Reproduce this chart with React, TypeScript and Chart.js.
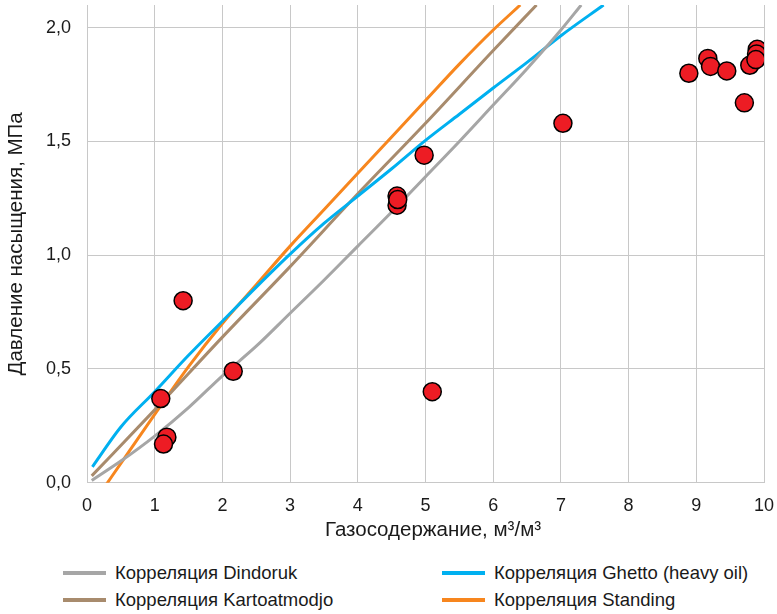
import React, { useEffect, useRef } from "react";
import { Chart, registerables } from "chart.js";

Chart.register(...registerables);

// ---- Data ----
const xTickValues = [0, 1, 2, 3, 4, 5, 6, 7, 8, 9, 10];
const yTickValues = [0, 0.5, 1.0, 1.5, 2.0];

const dindorukX = [0.07, 0.5, 1.0, 1.5, 2.0, 2.5, 3.0, 3.5, 4.0, 4.5, 5.0, 5.5, 6.0, 6.5, 7.0, 7.3];
const dindorukY = [0.01, 0.095, 0.205, 0.33, 0.47, 0.6, 0.745, 0.89, 1.04, 1.19, 1.345, 1.5, 1.66, 1.82, 1.99, 2.1];

const ghettoX = [0.08, 0.5, 1.0, 1.5, 2.0, 2.5, 3.0, 3.5, 4.0, 4.5, 5.0, 5.5, 6.0, 6.5, 7.0, 7.63];
const ghettoY = [0.07, 0.245, 0.4, 0.56, 0.71, 0.86, 1.005, 1.14, 1.26, 1.38, 1.505, 1.62, 1.735, 1.848, 1.965, 2.1];

const kartoX = [0.07, 1.0, 2.0, 3.0, 4.0, 5.0, 6.0, 6.64];
const kartoY = [0.03, 0.32, 0.64, 0.95, 1.27, 1.58, 1.9, 2.1];

const standingX = [0.28, 0.5, 1.0, 1.5, 2.0, 2.5, 3.0, 3.5, 4.0, 4.5, 5.0, 5.5, 6.0, 6.4];
const standingY = [-0.01, 0.085, 0.3, 0.51, 0.7, 0.87, 1.04, 1.2, 1.36, 1.52, 1.68, 1.84, 1.99, 2.1];

const sampleX = [1.42, 1.09, 1.18, 1.13, 2.16, 4.58, 4.58, 4.59, 4.98, 5.1, 7.03, 8.89, 9.17, 9.21, 9.45, 9.71, 9.79, 9.9, 9.89, 9.88];
const sampleY = [0.8, 0.37, 0.2, 0.17, 0.49, 1.22, 1.26, 1.245, 1.44, 0.4, 1.58, 1.8, 1.865, 1.83, 1.81, 1.67, 1.835, 1.905, 1.885, 1.86];

const seriesLabels = [
  "Корреляция Dindoruk",
  "Корреляция Ghetto (heavy oil)",
  "Корреляция Kartoatmodjo",
  "Корреляция Standing",
];
const seriesColors = ["#A6A6A6", "#00B0F0", "#A88B6D", "#F7861E"];

const xTitle = "Газосодержание, м³/м³";
const yTitle = "Давление насыщения, МПа";

const FONT = "'Liberation Sans', Arial, sans-serif";
const TEXT = "#1a1a1a";
const GRID = "#C8C8C8";

function pts(xs: number[], ys: number[]) {
  return xs.map((x, i) => ({ x, y: ys[i] }));
}

export default function App() {
  const ref = useRef<HTMLCanvasElement>(null);

  useEffect(() => {
    document.body.style.margin = "0";
    const canvas = ref.current;
    if (!canvas) return;

    const lineSets = [
      [dindorukX, dindorukY],
      [ghettoX, ghettoY],
      [kartoX, kartoY],
      [standingX, standingY],
    ].map(([xs, ys], i) => ({
      label: seriesLabels[i],
      data: pts(xs, ys),
      showLine: true,
      borderColor: seriesColors[i],
      backgroundColor: seriesColors[i],
      borderWidth: 3,
      pointRadius: 0,
      pointHoverRadius: 0,
      fill: false,
      cubicInterpolationMode: "monotone" as const,
    }));

    const chart = new Chart(canvas, {
      type: "scatter",
      data: {
        datasets: [
          {
            label: "Фактические данные",
            data: pts(sampleX, sampleY),
            backgroundColor: "#ED1C24",
            borderColor: "#000000",
            pointRadius: 9,
            pointBorderWidth: 1.5,
            showLine: false,
          },
          ...lineSets,
        ],
      },
      options: {
        animation: false,
        responsive: false,
        maintainAspectRatio: false,
        devicePixelRatio: 1,
        layout: { autoPadding: false, padding: { top: 5, right: 13, left: 0, bottom: 0 } },
        plugins: {
          legend: { display: false },
          tooltip: { enabled: false },
        },
        scales: {
          x: {
            type: "linear",
            min: 0,
            max: 10,
            afterBuildTicks: (s: any) => {
              s.ticks = xTickValues.map((v) => ({ value: v }));
            },
            afterFit: (s: any) => {
              s.height = 67.3;
              s.paddingLeft = 0;
              s.paddingRight = 0;
            },
            ticks: {
              padding: 12.5,
              color: TEXT,
              font: { family: FONT, size: 18 },
              callback: (v: any) => String(v),
            },
            grid: { color: GRID, lineWidth: 1, drawTicks: false },
            border: { color: GRID, width: 1 },
          },
          y: {
            type: "linear",
            min: 0,
            max: 2.1,
            afterBuildTicks: (s: any) => {
              s.ticks = yTickValues.map((v) => ({ value: v }));
            },
            afterFit: (s: any) => {
              s.width = 87;
              s.paddingTop = 0;
              s.paddingBottom = 0;
            },
            ticks: {
              padding: 16,
              color: TEXT,
              font: { family: FONT, size: 18 },
              callback: (v: any) => Number(v).toFixed(1).replace(".", ","),
            },
            grid: { color: GRID, lineWidth: 1, drawTicks: false },
            border: { color: GRID, width: 1 },
            title: {
              display: true,
              text: yTitle,
              color: TEXT,
              font: { family: FONT, size: 20.5 },
              padding: { top: 4, bottom: 0 },
            },
          },
        },
      },
    });

    return () => chart.destroy();
  }, []);

  const legendPos = [
    { left: 63, top: 573 },
    { left: 442, top: 573 },
    { left: 63, top: 600 },
    { left: 442, top: 600 },
  ];

  return (
    <div style={{ position: "relative", width: 777, height: 614, background: "#fff", overflow: "hidden", fontFamily: FONT }}>
      <canvas ref={ref} width={777} height={550} style={{ position: "absolute", left: 0, top: 0, width: 777, height: 550 }} />
      <div
        style={{
          position: "absolute",
          left: 433,
          top: 517.4,
          transform: "translateX(-50%)",
          fontSize: 20.5,
          lineHeight: "24px",
          whiteSpace: "nowrap",
          color: TEXT,
        }}
      >
        {xTitle}
      </div>
      {seriesLabels.map((label, i) => (
        <div
          key={label}
          style={{
            position: "absolute",
            left: legendPos[i].left,
            top: legendPos[i].top - 12,
            height: 24,
            display: "flex",
            alignItems: "center",
            whiteSpace: "nowrap",
          }}
        >
          <span style={{ display: "inline-block", width: 43, height: 4, background: seriesColors[i] }} />
          <span style={{ marginLeft: 9, fontSize: 18.5, color: TEXT, lineHeight: "24px" }}>{label}</span>
        </div>
      ))}
    </div>
  );
}
